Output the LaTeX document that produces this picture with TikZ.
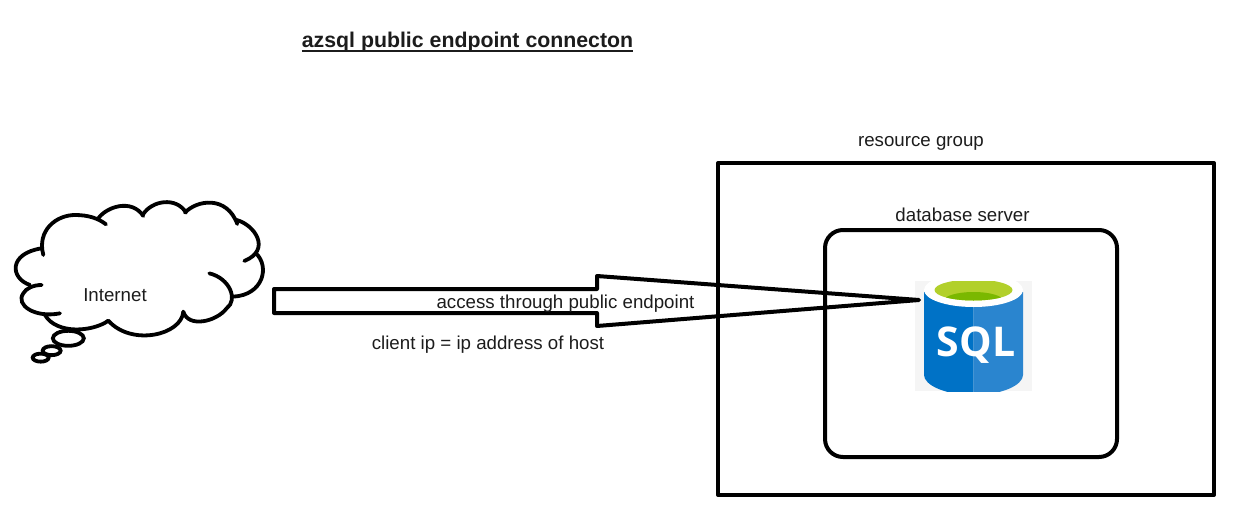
\documentclass[tikz,border=0pt]{standalone}
\usepackage{fontspec}
\setmainfont{Liberation Sans}
\newfontfamily\iconfont{Open Sans}
\definecolor{sqlleft}{HTML}{0072C6}
\definecolor{sqlright}{HTML}{2A85CF}
\definecolor{sqlbg}{HTML}{F5F5F5}
\definecolor{sqllime}{HTML}{B2D02B}
\definecolor{sqlgreen}{HTML}{7AB800}
\definecolor{inktext}{HTML}{1C1C1C}
\tikzset{
  ink/.style={draw=black,line width=4pt,line join=round},
  lobe/.style={draw=black,line width=3.8pt,line cap=round},
  label/.style={inner sep=0pt,text=inktext,font=\fontsize{18.7}{20}\selectfont,anchor=center},
}
\begin{document}
\begin{tikzpicture}[x=1pt,y=-1pt]
\useasboundingbox (0,0) rectangle (1246,527);
% containers
\node[ink,minimum width=496pt,minimum height=332pt,inner sep=0pt] (rg) at (966,329) {};
\node[ink,rounded corners=18pt,minimum width=292pt,minimum height=227pt,inner sep=0pt] (db) at (971,343.5) {};
% SQL icon
\fill[sqlbg] (915,281) rectangle (1032,391);
\begin{scope}
\clip (915,281) rectangle (1032,391);
\fill[sqlleft] (924,292) -- (973.5,292) -- (973.5,395) .. controls (945,395) and (924,385) .. (924,375) -- cycle;
\fill[sqlright] (973.5,292) -- (1023,292) -- (1023,375) .. controls (1023,385) and (1002,395) .. (973.5,395) -- cycle;
\fill[white] (973.5,290) ellipse [x radius=49.5pt,y radius=17pt];
\fill[sqllime] (973.5,290) ellipse [x radius=39pt,y radius=10.5pt];
\begin{scope}
\clip (973.5,290) ellipse [x radius=39pt,y radius=10.5pt];
\fill[sqlgreen] (973.5,301) ellipse [x radius=30pt,y radius=9pt];
\end{scope}
\end{scope}
\node[inner sep=0pt,text=white,font=\iconfont\bfseries\fontsize{41}{41}\selectfont] (sql) at (976,345) {SQL};
% block arrow
\coordinate (a1) at (274,289);
\coordinate (a2) at (597,289);
\coordinate (a3) at (597,276);
\coordinate (tip) at (919,300);
\coordinate (a4) at (597,326);
\coordinate (a5) at (597,313);
\coordinate (a6) at (274,313);
\draw[ink] (a1) -- (a2) -- (a3) -- (tip) -- (a4) -- (a5) -- (a6) -- cycle;
% cloud
\begin{scope}[shift={(0,190)},x=0.3333pt,y=-0.3333pt]
\draw[lobe] (130,195) .. controls (110,120) and (170,75) .. (225,75) .. controls (265,75) and (295,85) .. (318,103);
\draw[lobe] (295,85) .. controls (320,50) and (395,25) .. (430,78);
\draw[lobe] (428,75) .. controls (455,30) and (530,20) .. (558,68);
\draw[lobe] (555,68) .. controls (590,30) and (680,15) .. (712,102);
\draw[lobe] (710,90) .. controls (765,105) and (815,180) .. (733,213);
\draw[lobe] (768,190) .. controls (810,230) and (790,315) .. (700,320);
\draw[lobe] (628,250) .. controls (690,265) and (715,330) .. (680,355) .. controls (650,395) and (565,415) .. (550,365);
\draw[lobe] (550,365) .. controls (545,435) and (395,470) .. (325,392);
\draw[lobe] (325,392) .. controls (280,425) and (170,435) .. (135,375);
\draw[lobe] (180,370) .. controls (105,385) and (45,345) .. (70,310) .. controls (78,295) and (100,285) .. (125,285);
\draw[lobe] (90,285) .. controls (30,265) and (25,190) .. (125,175);
\draw[lobe] (205,445) ellipse [x radius=15.5pt,y radius=7.5pt];
\draw[lobe] (155,482) ellipse [x radius=9pt,y radius=4.5pt];
\draw[lobe] (122,503) ellipse [x radius=8pt,y radius=4pt];
\end{scope}
% labels
\node[inner sep=0pt,font=\bfseries\fontsize{21.3}{22}\selectfont,text=inktext] (title) at (467.5,42) {\vtop{\hbox{azsql public endpoint connecton}\kern-2pt\hrule height 2pt}};
\node[label] (lrg) at (921,143.5) {resource group};
\node[label] (ldb) at (962.5,215) {database server};
\node[label] (lnet) at (115,295.5) {Internet};
\node[label] (lacc) at (565.5,304) {access through public endpoint};
\node[label] (lcli) at (488,345) {client ip = ip address of host};
\end{tikzpicture}
\end{document}
